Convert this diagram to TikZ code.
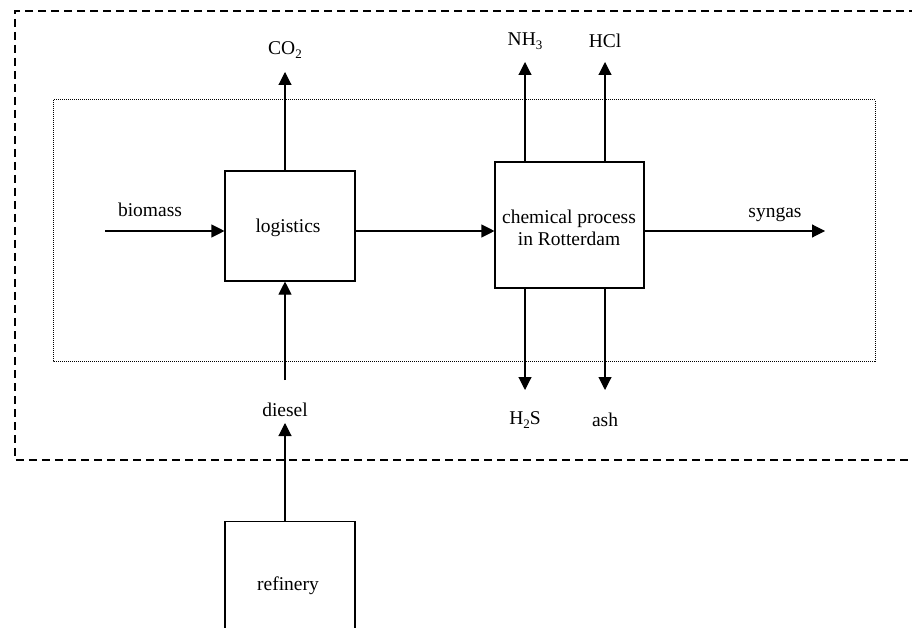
\documentclass[tikz,border=0pt]{standalone}
\usepackage{fontspec}
\setmainfont{Liberation Serif}
\usetikzlibrary{arrows.meta}
\newcommand{\mysub}[1]{\raisebox{-0.5ex}{\fontsize{13}{13}\selectfont #1}}
\begin{document}
\begin{tikzpicture}[x=1pt,y=-1pt,
  every node/.style={font=\fontsize{19.5}{22}\selectfont},
  proc/.style={draw,line width=1.1pt,rectangle,inner sep=0pt,align=center},
  arr/.style={line width=1.1pt,-{Triangle[length=13pt,width=13pt]}},
  outerbox/.style={line width=1.7pt,dash pattern=on 8pt off 5pt},
  innerbox/.style={line width=1pt,dash pattern=on 1pt off 1pt}]
\useasboundingbox (0,0) rectangle (912,628);
\clip (0,0) rectangle (912,628);
\fill[white] (0,0) rectangle (912,628);
% boundaries
\draw[outerbox] (930,11) -- (15,11) -- (15,460) -- (930,460);
\draw[innerbox] (53,100) rectangle (875,361);
% process boxes
\node[proc,minimum width=130pt,minimum height=110pt] (logistics) at (290,226) {};
\node at (288,228) {logistics};
\node[proc,minimum width=149pt,minimum height=126pt] (chem) at (569.5,225) {};
\node[align=center] at (569,228) {chemical process\\in Rotterdam};
\node[proc,minimum width=130pt,minimum height=140pt,anchor=north] (refinery) at (290,521) {};
\node at (288,586) {refinery};
% coordinates
\coordinate (bio) at (105,231);
\coordinate (syn) at (825,231);
\coordinate (co2) at (285,72);
\coordinate (nh3) at (525,62);
\coordinate (hcl) at (605,62);
\coordinate (h2s) at (525,390);
\coordinate (ash) at (605,390);
\coordinate (dtop) at (285,380);
\coordinate (dbot) at (285,423);
% labels
\node (lbio) at (150,210) {biomass};
\node (lsyn) at (775,215) {syngas};
\node (lco2) at (285,50) {CO\mysub{2}};
\node (lnh3) at (525,41) {NH\mysub{3}};
\node (lhcl) at (605,41) {HCl};
\node (lh2s) at (525,420) {H\mysub{2}S};
\node (lash) at (605,420) {ash};
\node (ldiesel) at (285,410) {diesel};
% arrows
\draw[arr] (bio) -- (bio -| logistics.west);
\draw[arr] (bio -| logistics.east) -- (bio -| chem.west);
\draw[arr] (syn -| chem.east) -- (syn);
\draw[arr] (co2 |- logistics.north) -- (co2);
\draw[arr] (nh3 |- chem.north) -- (nh3);
\draw[arr] (hcl |- chem.north) -- (hcl);
\draw[arr] (h2s |- chem.south) -- (h2s);
\draw[arr] (ash |- chem.south) -- (ash);
\draw[arr] (dtop) -- (dtop |- logistics.south);
\draw[arr] (dbot |- refinery.north) -- (dbot);
\end{tikzpicture}
\end{document}
